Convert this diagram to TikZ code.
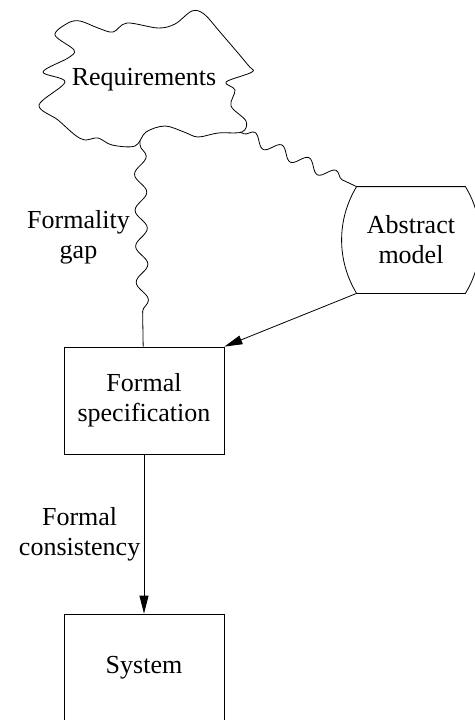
\documentclass[tikz,border=0pt]{standalone}
\usepackage{fontspec}
\setmainfont{Liberation Serif}
\usetikzlibrary{arrows.meta,decorations.pathmorphing,calc}

\begin{document}
\begin{tikzpicture}[x=1pt,y=-1pt,line width=.8pt,>={Triangle[length=18pt,width=9pt]},
  every node/.style={font=\fontsize{26}{30}\selectfont, align=center},
  box/.style={draw, minimum width=160pt, minimum height=107pt, inner sep=0pt},
  wiggle/.style={decorate, decoration={snake, segment length=36pt, amplitude=6pt, pre length=4pt, post length=18pt}}]
\useasboundingbox (0,0) rectangle (474,720);

\node[inner sep=0pt] (req) at (144,80) {Requirements};
\draw plot[smooth cycle, tension=.55] coordinates {
  (55,35) (68,23) (80,21) (98,28) (113,32) (127,23) (158,28) (175,24) (192,11) (204,14)
  (220,32) (248,65) (252,72) (226,82) (235,90) (231,106) (246,121) (242,132) (218,133)
  (198,137) (184,132) (165,126) (146,132) (135,146) (112,145) (98,138) (85,140) (75,135)
  (58,120) (39,105) (65,82) (43,72) (68,58) (74,50)};
\coordinate (req gap) at (140,141);
\coordinate (req side) at (240,132);

\node[box] (spec) at (144,400.5) {Formal\\specification};
\node[box] (sys) at (144,667.5) {System};
\node[minimum width=108pt, minimum height=106pt, inner sep=0pt] (model) at (411,240) {Abstract\\model};
\draw (model.north west) -- (model.north east) .. controls +(20,33) and +(20,-33) .. (model.south east)
  -- (model.south west) .. controls +(-20,-33) and +(-20,33) .. (model.north west) -- cycle;

\draw[wiggle] (req gap) -- (spec) node[pos=.47, left=8pt] {Formality\\gap};
\draw[wiggle, decoration={segment length=30pt, post length=8pt}] (req side) -- (model.north west);
\draw[->] (model.south west) -- (spec.north east);
\draw[->] (spec) -- (sys) node[midway, left] {Formal\\consistency};
\end{tikzpicture}
\end{document}
